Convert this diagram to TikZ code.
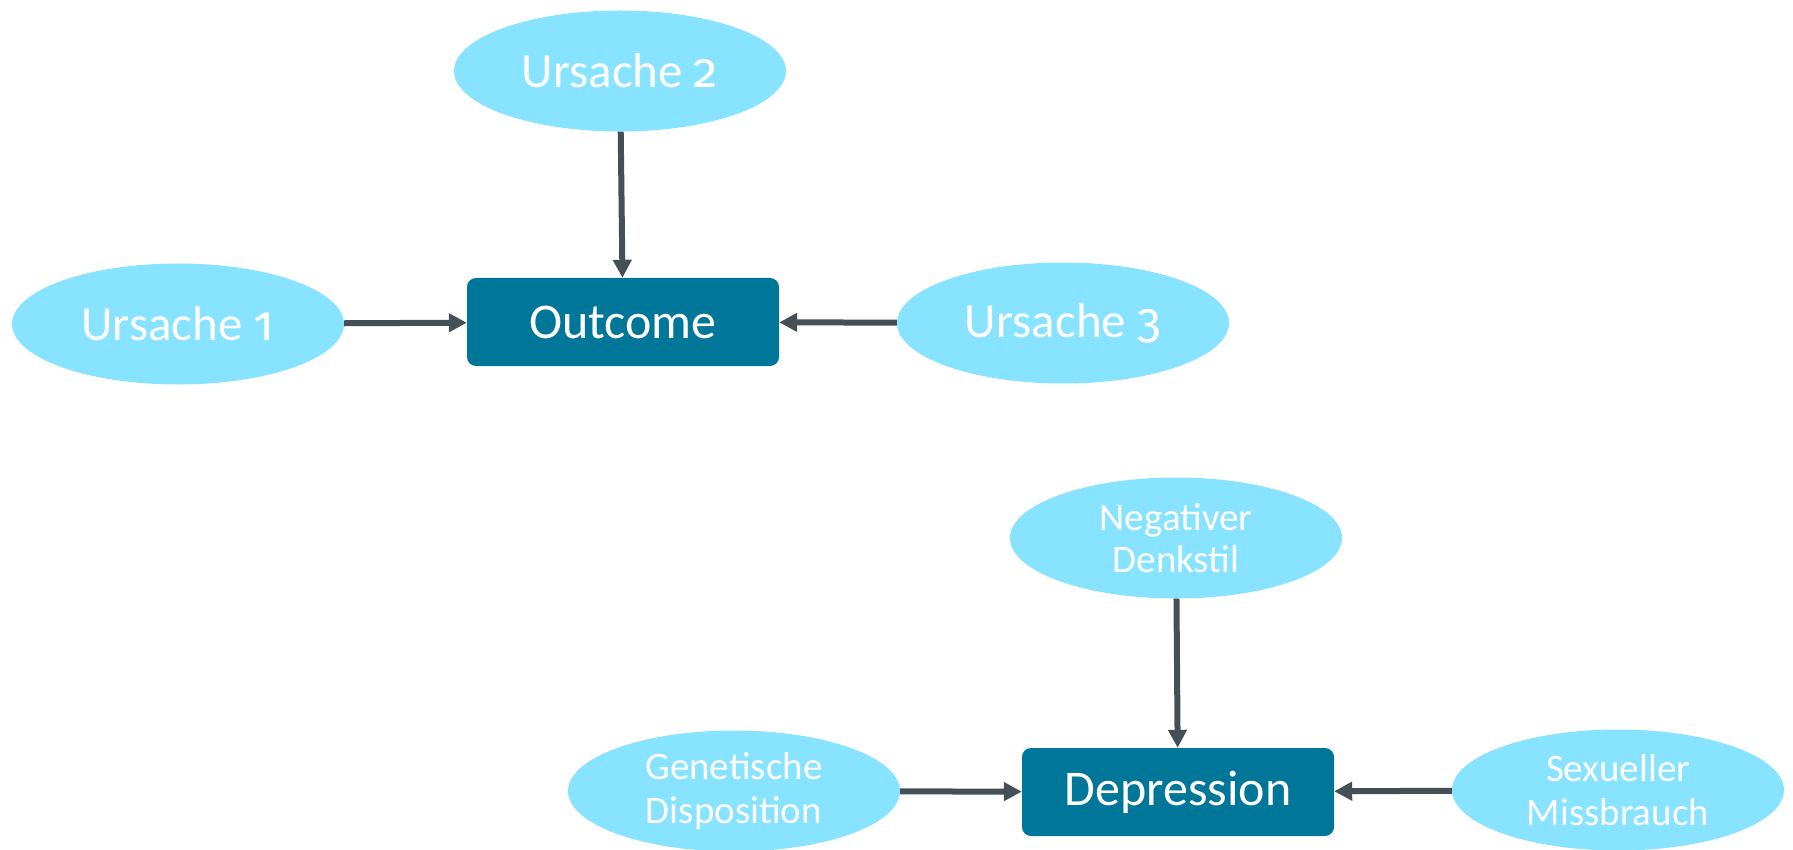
\documentclass[tikz,border=0pt]{standalone}
\usepackage{fontspec}
\setmainfont{Carlito}
\newfontfamily\oldnum{Fira Sans}[Numbers=OldStyle]
\usetikzlibrary{shapes.geometric}
\usetikzlibrary{arrows.meta}

\definecolor{causeblue}{HTML}{87E3FF}
\definecolor{effectteal}{HTML}{007698}
\definecolor{arrowgrey}{HTML}{454F56}

\begin{document}
\begin{tikzpicture}[x=1pt, y=-1pt,
        cause/.style={ellipse, fill=causeblue, text=white, minimum width=332pt, minimum height=121pt, inner sep=0pt, align=center},
        effect/.style={rectangle, rounded corners=9pt, fill=effectteal, text=white, minimum width=312pt, minimum height=88pt, inner sep=0pt},
        link/.style={arrowgrey, line width=6pt, -{Triangle[length=18pt, width=18pt]}}]
        \useasboundingbox (0,0) rectangle (1793,850);
        % upper model
        \node[effect, font=\fontsize{50}{58}\selectfont] (outcome) at (623,322) {Outcome};
        \node[cause, font=\fontsize{49}{58}\selectfont] (u1) at (178,324) {Ursache {\oldnum 1}};
        \node[cause, font=\fontsize{49}{58}\selectfont] (u2) at (620,71) {Ursache {\oldnum 2}};
        \node[cause, font=\fontsize{49}{58}\selectfont] (u3) at (1063,323) {Ursache {\oldnum 3}};
        \draw[link] (u1) -- (outcome);
        \draw[link] (u2) -- (outcome);
        \draw[link] (u3) -- (outcome);
        % lower model
        \node[effect, font=\fontsize{50}{58}\selectfont] (depr) at (1178,792) {Depression};
        \node[cause, font=\fontsize{39}{44}\selectfont] (gen) at (734,791) {Genetische\\Disposition};
        \node[cause, font=\fontsize{39}{42}\selectfont] (denk) at (1176,538) {Negativer\\Denkstil};
        \node[cause, font=\fontsize{39}{44}\selectfont] (miss) at (1618,790) {Sexueller\\Missbrauch};
        \draw[link] (gen) -- (depr);
        \draw[link] (denk) -- (depr);
        \draw[link] (miss) -- (depr);
    \end{tikzpicture}
\end{document}
